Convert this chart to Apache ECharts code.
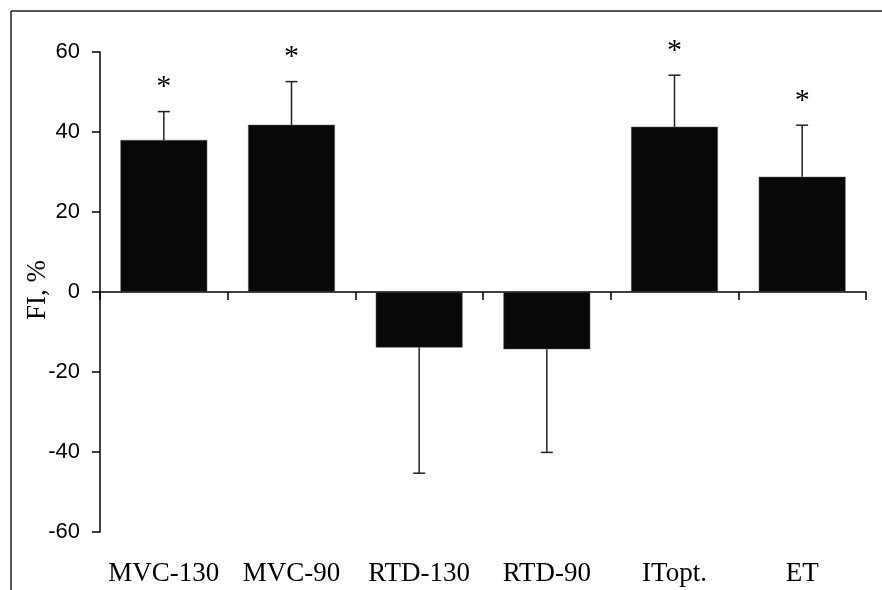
<!DOCTYPE html>
<html>
<head>
<meta charset="utf-8">
<script src="https://cdn.jsdelivr.net/npm/echarts@6/dist/echarts.min.js"></script>
<style>html,body{margin:0;padding:0;background:#fff;}#c{width:882px;height:590px;}</style>
</head>
<body>
<div id="c"></div>
<script>
const categories = ['MVC-130', 'MVC-90', 'RTD-130', 'RTD-90', 'ITopt.', 'ET'];
const means = [38, 41.8, -13.9, -14.3, 41.3, 28.8];
const sds = [7.1, 10.8, 31.4, 25.8, 12.9, 12.9];
const stars = ['*', '*', '', '', '*', '*'];
const yTicks = [-60, -40, -20, 0, 20, 40, 60];
const yTitle = 'FI, %';

const errData = categories.map((c, i) => [i, means[i], means[i] + (means[i] >= 0 ? sds[i] : -sds[i]), stars[i]]);

const chart = echarts.init(document.getElementById('c'));
chart.setOption({
  animation: false,
  grid: { left: 100, right: 16, top: 52, bottom: 58, containLabel: false },
  xAxis: [
    {
      type: 'category', data: categories, position: 'top',
      axisLine: { onZero: true, lineStyle: { color: '#000', width: 1.5 } },
      axisTick: { show: true, inside: true, length: 8, lineStyle: { color: '#000', width: 1.5 } },
      axisLabel: { show: false }, splitLine: { show: false }
    },
    {
      type: 'category', data: categories, position: 'bottom',
      axisLine: { show: false, onZero: false }, axisTick: { show: false },
      axisLabel: { show: true, interval: 0, fontFamily: 'Liberation Serif', fontSize: 27, color: '#000', margin: 28 },
      splitLine: { show: false }
    }
  ],
  yAxis: {
    type: 'value', min: yTicks[0], max: yTicks[yTicks.length - 1], interval: 20,
    axisLine: { show: true, lineStyle: { color: '#000', width: 1.5 } },
    axisTick: { show: true, length: 8, lineStyle: { color: '#000', width: 1.5 } },
    axisLabel: { fontFamily: 'Liberation Sans', fontSize: 22, color: '#000', margin: 20 },
    splitLine: { show: false }
  },
  graphic: [
    { type: 'line', shape: { x1: 11, y1: 11, x2: 882, y2: 11 }, style: { stroke: '#222', lineWidth: 1.5 }, z: 10 },
    { type: 'line', shape: { x1: 11, y1: 11, x2: 11, y2: 590 }, style: { stroke: '#222', lineWidth: 1.5 }, z: 10 },
    { type: 'text', x: 38, y: 290, rotation: Math.PI / 2,
      style: { text: yTitle, fontFamily: 'Liberation Serif', fontSize: 27, fill: '#000', align: 'center', verticalAlign: 'middle' } }
  ],
  series: [
    {
      type: 'bar', xAxisIndex: 1, data: means, barCategoryGap: '32%',
      itemStyle: { color: '#080808', borderColor: '#555', borderWidth: 0.5 }, z: 2
    },
    {
      type: 'custom', xAxisIndex: 1, data: errData, z: 3,
      encode: { x: 0, y: [1, 2] },
      renderItem: function (params, api) {
        const p0 = api.coord([api.value(0), api.value(1)]);
        const p1 = api.coord([api.value(0), api.value(2)]);
        const star = api.value(3);
        const children = [
          { type: 'line', shape: { x1: p0[0], y1: p0[1], x2: p1[0], y2: p1[1] }, style: { stroke: '#222', lineWidth: 1.5 } },
          { type: 'line', shape: { x1: p1[0] - 6, y1: p1[1], x2: p1[0] + 6, y2: p1[1] }, style: { stroke: '#222', lineWidth: 1.5 } }
        ];
        if (star === '*') {
          children.push({ type: 'text', x: p1[0], y: p1[1] - 24, style: { text: '*', fontFamily: 'Liberation Serif', fontSize: 30, fill: '#000', align: 'center', verticalAlign: 'middle' } });
        }
        return { type: 'group', children: children };
      }
    }
  ]
});
</script>
</body>
</html>
